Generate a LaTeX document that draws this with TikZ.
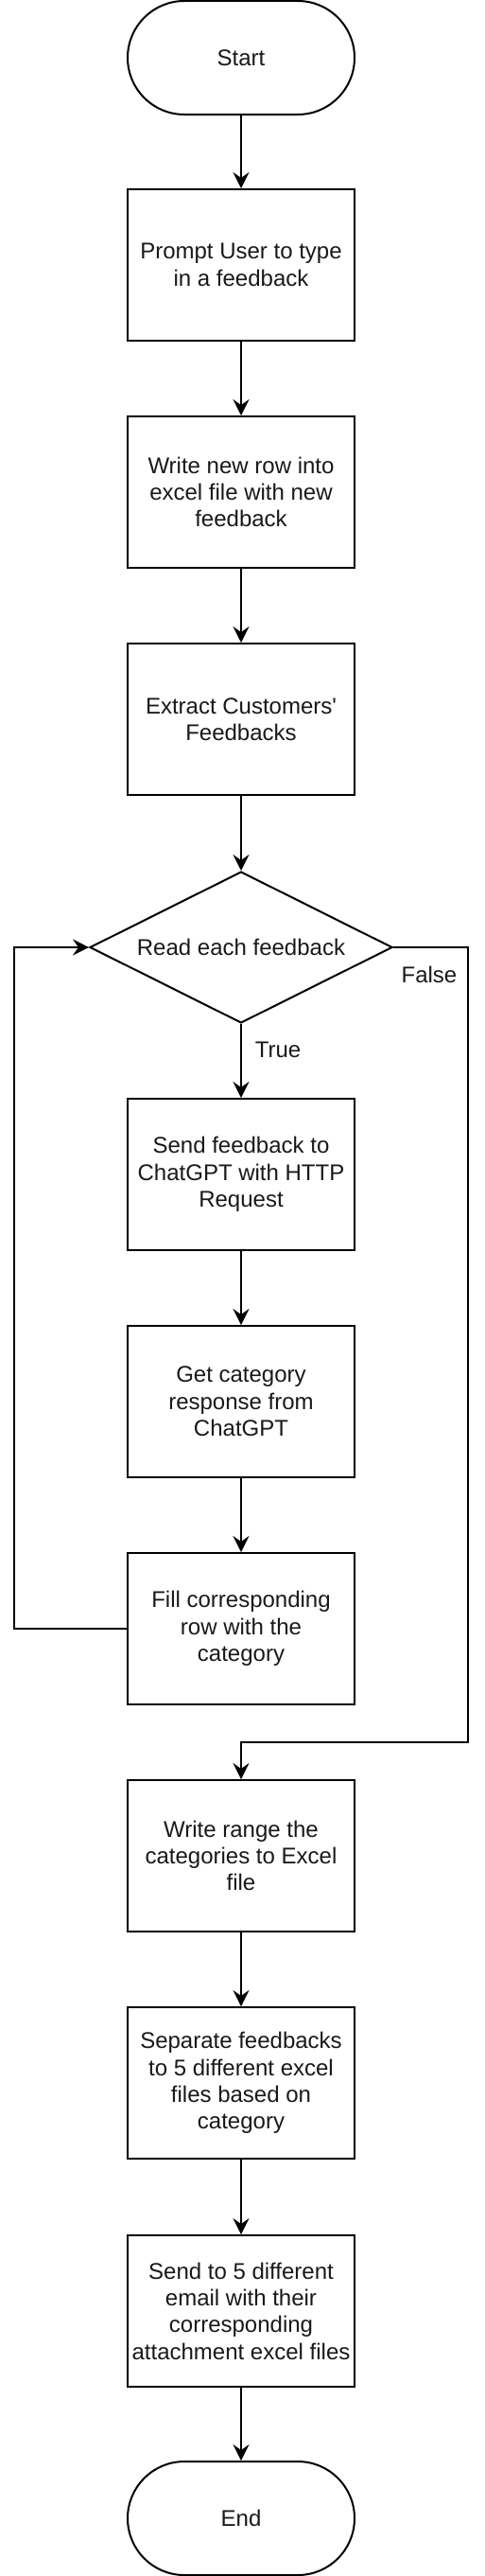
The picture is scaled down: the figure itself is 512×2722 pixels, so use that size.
\documentclass[tikz,border=0pt]{standalone}
\usepackage{fontspec}
\setmainfont{Liberation Sans}
\usetikzlibrary{arrows.meta,shapes.geometric}
\begin{document}
\begin{tikzpicture}[x=1pt,y=-1pt,
  every node/.style={font=\fontsize{24}{28.3}\selectfont, text=black!90},
  procbox/.style={draw=black, line width=2pt, rectangle, minimum width=240pt, minimum height=160pt, inner sep=0pt, align=center, fill=white},
  termbox/.style={draw=black, line width=2pt, rectangle, rounded corners=60pt, minimum width=240pt, minimum height=120pt, inner sep=0pt, align=center, fill=white},
  decbox/.style={draw=black, line width=2pt, diamond, aspect=2, minimum width=320pt, minimum height=160pt, inner sep=0pt, align=center},
  flow/.style={draw=black, line width=2pt, -{Stealth[length=17pt,width=17pt,inset=6pt]}},
  edgelabel/.style={inner sep=0pt}]
\useasboundingbox (0,0) rectangle (512,2722);
\node[termbox] (start) at (255,61) {Start};
\node[procbox] (prompt) at (255,280) {Prompt User to type\\in a feedback};
\node[procbox] (write) at (255,520) {Write new row into\\excel file with new\\feedback};
\node[procbox] (extract) at (255,760) {Extract Customers\textquotesingle\\Feedbacks};
\node[decbox] (read) at (255,1001) {Read each feedback};
\node[procbox] (send) at (255,1241) {Send feedback to\\ChatGPT with HTTP\\Request};
\node[procbox] (get) at (255,1481) {Get category\\response from\\ChatGPT};
\node[procbox] (fill) at (255,1721) {Fill corresponding\\row with the\\category};
\node[procbox] (range) at (255,1961) {Write range the\\categories to Excel\\file};
\node[procbox] (sep) at (255,2201) {Separate feedbacks\\to 5 different excel\\files based on\\category};
\node[procbox] (email) at (255,2442) {Send to 5 different\\email with their\\corresponding\\attachment excel files};
\node[termbox] (end) at (255,2661) {End};
\coordinate (loopbl) at (15,1721);
\coordinate (looptl) at (15,1001);
\coordinate (falsetr) at (495,1001);
\coordinate (falsebr) at (495,1841);
\coordinate (falsebm) at (255,1841);
\draw[flow] (start) -- (prompt);
\draw[flow] (prompt) -- (write);
\draw[flow] (write) -- (extract);
\draw[flow] (extract) -- (read);
\draw[flow] (read) -- (send);
\node[edgelabel] (truelbl) at (294,1109) {True};
\draw[flow] (send) -- (get);
\draw[flow] (get) -- (fill);
\draw[flow] (fill.west) -- (loopbl) -- (looptl) -- (read.west);
\draw[flow] (read.east) -- (falsetr) -- (falsebr) -- (falsebm) -- (range);
\node[edgelabel] (falselbl) at (454,1030) {False};
\draw[flow] (range) -- (sep);
\draw[flow] (sep) -- (email);
\draw[flow] (email) -- (end);
\end{tikzpicture}
\end{document}
